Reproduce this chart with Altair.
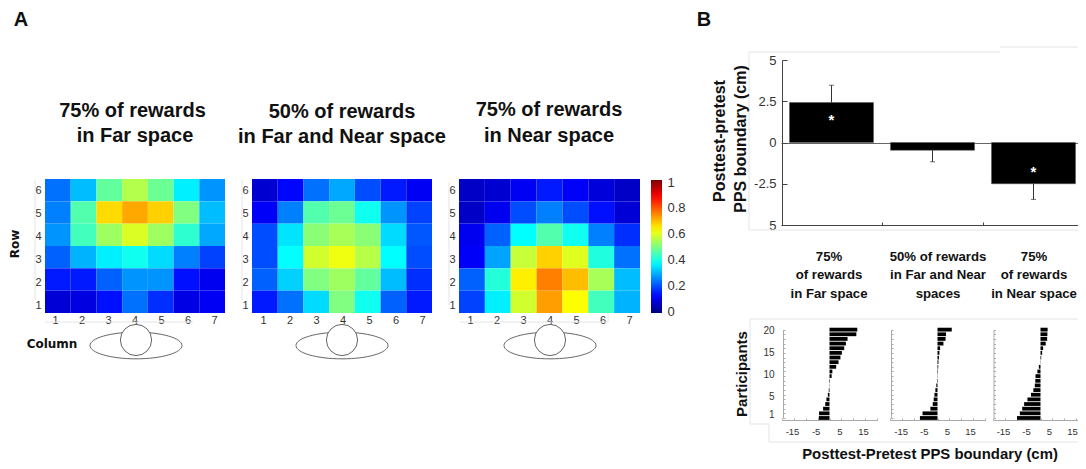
import altair as alt
import pandas as pd

# ---------- data ----------
ROWS = [6, 5, 4, 3, 2, 1]
COLS = [1, 2, 3, 4, 5, 6, 7]
heat_far = [
    [.235, .31, .47, .55, .48, .36, .27],
    [.25, .455, .66, .71, .67, .50, .31],
    [.27, .44, .53, .59, .53, .42, .29],
    [.22, .30, .36, .39, .34, .25, .19],
    [.15, .15, .22, .27, .27, .14, .11],
    [.085, .095, .14, .235, .17, .10, .115],
]
heat_mid = [
    [.08, .13, .235, .29, .20, .15, .115],
    [.12, .25, .455, .48, .39, .27, .19],
    [.20, .35, .51, .54, .51, .34, .21],
    [.20, .375, .58, .61, .555, .375, .20],
    [.22, .33, .50, .53, .47, .31, .17],
    [.15, .235, .34, .50, .39, .22, .15],
]
heat_near = [
    [.07, .08, .115, .15, .12, .09, .07],
    [.07, .11, .20, .25, .20, .14, .085],
    [.11, .22, .375, .455, .39, .25, .17],
    [.12, .285, .57, .67, .595, .405, .235],
    [.22, .41, .64, .75, .69, .54, .31],
    [.19, .36, .58, .72, .625, .44, .30],
]
JET = ["#00007f", "#0000ff", "#00ffff", "#ffff00", "#ff0000", "#7f0000"]
JET_STOPS = [0, .125, .375, .625, .875, 1]
COLORBAR_TICKS = [0, .2, .4, .6, .8, 1]

conds = ["far", "mid", "near"]
means = [2.42, -0.47, -2.5]
err_ends = [3.47, -1.17, -3.45]
star_cond = ["far", "near"]
star_pos = [1.57, -1.58]

participants = list(range(1, 21))
part_far = [-4.5, -4.4, -2.7, -1.8, -1.3, -.7, -.3, -.1, .2, .9, 1.2, 2.8, 3.8, 4.6, 5.2, 6.2, 6.9, 7.6, 11.3, 11.7]
part_mid = [-7.4, -6.3, -3, -2, -1.6, -1.3, -.9, -.5, -.2, .1, .2, .3, .4, .6, .8, 1.1, 2.5, 3.4, 3.6, 6]
part_near = [-9.9, -8.7, -7.7, -6.9, -5.5, -4, -3, -2.4, -2.2, -2.1, -1.3, -.7, -.1, .3, .7, 1.1, 2.2, 2.8, 2.9, 3]

W, H = 1070, 456
M = 8
TICK = "#333333"
FONT = "Liberation Sans"


def P(*a):
    return [v - M for v in a]


def text(s, x, y, size, bold=True, angle=0, font=FONT, color="#111111", dy=0):
    return alt.Chart(pd.DataFrame({"t": [s]})).mark_text(
        font=font, fontSize=size, fontWeight="bold" if bold else "normal",
        angle=angle, align="center", baseline="middle", color=color, dy=dy,
    ).encode(text="t:N", x=alt.value(x - M), y=alt.value(y - M))


def axis_x(domain, rng, values, orient, ypos, labels=True, ticks=False, dom=False,
           size=11, pad=0, tick=2, dc="#888888", expr=None):
    off = (ypos - M - H) if orient == "bottom" else -(ypos - M)
    ax = dict(orient=orient, offset=off, values=values, title=None, grid=False, labels=labels,
              ticks=ticks, domain=dom, labelFont=FONT, labelFontSize=size, labelColor=TICK,
              labelPadding=pad, labelFlush=False, labelOverlap=False, tickSize=tick, tickColor=dc,
              domainColor=dc)
    if expr:
        ax["labelExpr"] = expr
    return alt.Chart(pd.DataFrame({"v": [domain[0]]})).mark_point(opacity=0).encode(
        x=alt.X("v:Q", scale=alt.Scale(domain=domain, range=P(*rng)), axis=alt.Axis(**ax)),
        y=alt.value(0))


def axis_y(domain, rng, values, orient, xpos, labels=True, ticks=False, dom=False,
           size=11, pad=0, tick=2, dc="#888888", expr=None):
    off = -(xpos - M) if orient == "left" else (xpos - M - W)
    ax = dict(orient=orient, offset=off, values=values, title=None, grid=False, labels=labels,
              ticks=ticks, domain=dom, labelFont=FONT, labelFontSize=size, labelColor=TICK,
              labelPadding=pad, labelFlush=False, labelOverlap=False, tickSize=tick, tickColor=dc,
              domainColor=dc)
    if expr:
        ax["labelExpr"] = expr
    return alt.Chart(pd.DataFrame({"v": [domain[0]]})).mark_point(opacity=0).encode(
        y=alt.Y("v:Q", scale=alt.Scale(domain=domain, range=P(*rng)), axis=alt.Axis(**ax)),
        x=alt.value(0))


def heat(matrix, x0, x1, legend=None):
    df = pd.DataFrame([{"row": r, "col": c, "v": matrix[i][j]}
                       for i, r in enumerate(ROWS) for j, c in enumerate(COLS)])
    return alt.Chart(df).mark_rect(strokeWidth=0).encode(
        x=alt.X("col:O", scale=alt.Scale(domain=COLS, range=P(x0, x1)), axis=None),
        y=alt.Y("row:O", scale=alt.Scale(domain=ROWS, range=P(179, 313)), axis=None),
        color=alt.Color("v:Q", scale=alt.Scale(domain=JET_STOPS, range=JET, interpolate="rgb"), legend=legend),
    )


def head(cx):
    ell = alt.Chart(pd.DataFrame({"k": [1]})).mark_point(
        shape="M-1,0A1,0.29 0 1 1 1,0A1,0.29 0 1 1 -1,0Z", size=8464, filled=False,
        stroke="#666666", strokeWidth=1, opacity=1,
    ).encode(x=alt.value(cx - M), y=alt.value(345.5 - M))
    cir = alt.Chart(pd.DataFrame({"k": [1]})).mark_point(
        shape="circle", size=973, filled=True, fill="white", stroke="#666666", strokeWidth=1, opacity=1,
    ).encode(x=alt.value(cx - M), y=alt.value(340 - M))
    return [ell, cir]


def hrule(x0, x1, y):
    return alt.Chart(pd.DataFrame({"k": [1]})).mark_rule(color="#e4e4e4", strokeWidth=1).encode(
        x=alt.value(x0 - M), x2=alt.value(x1 - M), y=alt.value(y - M))


def vrule(x, y0, y1):
    return alt.Chart(pd.DataFrame({"k": [1]})).mark_rule(color="#e4e4e4", strokeWidth=1).encode(
        x=alt.value(x - M), y=alt.value(y0 - M), y2=alt.value(y1 - M))


layers = []

# faint frames
layers += [
    vrule(35, 180, 300), hrule(45, 193, 322),
    vrule(242, 180, 300),
    vrule(449, 182, 305), hrule(460, 608, 322), vrule(608, 313, 322),
    vrule(749, 52, 230), hrule(749, 1000, 52), hrule(1000, 1086, 47), hrule(749, 1086, 230),
    hrule(750, 1086, 319), vrule(750, 319, 424), hrule(750, 769, 424), vrule(769, 424, 442), hrule(769, 1086, 442),
]

# panel A
legend = alt.Legend(orient="none", legendX=651 - M, legendY=180 - M, title=None, gradientLength=133,
                    gradientThickness=11, values=COLORBAR_TICKS, labelExpr="''", gradientStrokeWidth=0)
layers += [heat(heat_far, 45, 225), heat(heat_mid, 252, 432), heat(heat_near, 459, 640, legend)]
layers.append(axis_y([0, 1], [311, 182], COLORBAR_TICKS, "right", 667, size=13, expr="''+datum.value"))
for xl, xr, ylab in [(55, 214, 41), (263, 422, 248), (470, 629, 455)]:
    layers.append(axis_x([1, 7], [xl, xr], COLS, "bottom", 314, size=11))
    layers.append(axis_y([1, 6], [305, 190], ROWS, "left", ylab, size=11))
for cx in (136, 342, 550):
    layers += head(cx)

layers += [
    text("A", 21, 20, 20, font="Liberation Sans"),
    text("B", 704, 20, 20, font="Liberation Sans"),
    text("75% of rewards", 132.5, 111, 20), text("in Far space", 135, 136, 20),
    text("50% of rewards", 342, 112, 20), text("in Far and Near space", 342, 137, 20),
    text("75% of rewards", 549, 110, 20), text("in Near space", 549, 136, 20),
    text("Row", 15, 244, 12, angle=270, font="DejaVu Sans"),
    text("Column", 52, 344, 12, font="DejaVu Sans"),
]

# panel B: means
X_BAND = alt.Scale(domain=conds, range=P(781, 1084))
Y_MEAN = alt.Scale(domain=[-5, 5], range=P(225, 60))
bars = pd.DataFrame({"c": conds, "m": means, "e": err_ends})
layers += [
    alt.Chart(bars).mark_rule(color="#333333", strokeWidth=1).encode(
        x=alt.X("c:N", scale=X_BAND, axis=None),
        y=alt.Y("m:Q", scale=Y_MEAN, axis=None), y2="e:Q"),
    alt.Chart(bars).mark_tick(color="#333333", size=5, thickness=1).encode(
        x=alt.X("c:N", scale=X_BAND, axis=None),
        y=alt.Y("e:Q", scale=Y_MEAN, axis=None)),
    alt.Chart(bars).mark_bar(color="black", size=84, stroke="#555555", strokeWidth=0.5).encode(
        x=alt.X("c:N", scale=X_BAND, axis=None),
        y=alt.Y("m:Q", scale=Y_MEAN, axis=None)),
    alt.Chart(pd.DataFrame({"c": star_cond, "s": star_pos, "t": ["*", "*"]})).mark_text(
        color="white", fontSize=15, font=FONT, fontWeight="bold", dy=3, baseline="middle").encode(
        x=alt.X("c:N", scale=X_BAND, axis=None),
        y=alt.Y("s:Q", scale=Y_MEAN, axis=None), text="t:N"),
    axis_y([-5, 5], [225, 60], [-5, -2.5, 0, 2.5, 5], "left", 776, size=13,
           expr="datum.value==-5 ? '5' : ''+datum.value"),
    axis_y([-5, 5], [225, 60], [-5, -2.5, 0, 2.5, 5], "right", 782, labels=False, ticks=True, dom=True,
           tick=5, dc="#444444"),
    axis_x([0.5, 3.47], [781, 1081], [1.5, 2.5], "top", 225, labels=False, ticks=True, dom=True,
           tick=3, dc="#444444"),
    axis_x([0.5, 3.47], [781, 1081], [1], "top", 143, labels=False, ticks=False, dom=True, dc="#666666"),
    text("Posttest-pretest", 720, 141, 16, angle=270),
    text("PPS boundary (cm)", 741, 139, 16, angle=270),
]
for x, lines in [(829, ["75%", "of rewards", "in Far space"]),
                 (938, ["50% of rewards", "in Far and Near", "spaces"]),
                 (1034, ["75%", "of rewards", "in Near space"])]:
    for y, s in zip((257, 275, 294), lines):
        layers.append(text(s, x, y, 13.2))

# panel B: participants
Y_PART = alt.Scale(domain=participants[::-1], range=P(327.3, 420.3))
panels = [
    (part_far, (782, 877), (792, 863), 783),
    (part_mid, (890, 985), (900.7, 970), 891),
    (part_near, (993, 1088), (1003, 1072), 993.5),
]
for vals, rng, lab_rng, ax_x in panels:
    d = pd.DataFrame({"p": participants, "v": vals})
    layers.append(alt.Chart(d).mark_bar(color="black", size=3.8).encode(
        x=alt.X("v:Q", scale=alt.Scale(domain=[-20, 20], range=P(*rng)), axis=None),
        y=alt.Y("p:O", scale=Y_PART, axis=None)))
    layers.append(axis_x([-20, 20], rng, list(range(-20, 21, 5)), "top", 420, labels=False, ticks=True,
                         dom=True, tick=2, dc="#aaaaaa"))
    layers.append(axis_y([1, 20], [418, 329.6], participants, "right", ax_x, labels=False, ticks=True,
                         dom=True, tick=2, dc="#aaaaaa"))
    layers.append(axis_x([-15, 15], lab_rng, [-15, -5, 5, 15], "bottom", 426, size=9.5, expr="''+datum.value"))
layers.append(axis_y([1, 20], [414, 330], [1, 5, 10, 15, 20], "left", 774, size=10))
layers += [
    text("Participants", 742, 374, 15, angle=270),
    text("Posttest-Pretest PPS boundary (cm)", 930, 455, 14.9),
]

chart = alt.layer(*layers).resolve_scale(x="independent", y="independent", color="independent").properties(
    width=W, height=H, padding=0, autosize="none", background="white",
).configure_view(stroke=None)

chart.save("out.html", embed_options={"renderer": "svg", "actions": False})
